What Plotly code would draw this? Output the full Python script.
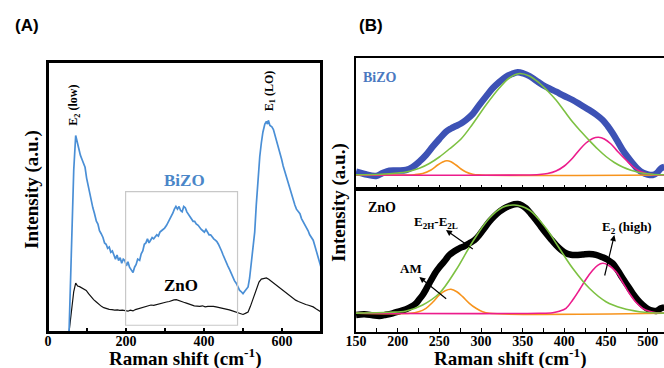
import plotly.graph_objects as go

# ---------------- Panel A data (Raman shift, intensity a.u.) ----------------
a_bizo_x = [54, 60, 66, 71, 75, 79, 83, 87, 91, 95, 99, 103, 107, 111, 115, 119, 124, 128, 132, 136,
            141, 145, 149, 153, 157, 161, 165, 169, 173, 177, 181, 185, 189, 193, 197, 201, 205, 209,
            213, 218, 222, 226, 230, 235, 239, 243, 247, 251, 255, 259, 263, 267, 271, 275, 279, 283,
            287, 291, 295, 299, 304, 308, 312, 316, 320, 324, 328, 332, 336, 340, 344, 348, 352, 356,
            360, 364, 368, 372, 376, 380, 385, 389, 393, 397, 401, 405, 409, 413, 417, 421, 425, 429,
            433, 437, 441, 445, 449, 453, 457, 461, 466, 470, 474, 478, 483, 487, 491, 495, 500, 504,
            508, 513, 517, 521, 526, 530, 534, 538, 543, 547, 551, 556, 560, 563, 565, 569, 574, 578,
            582, 587, 591, 595, 599, 603, 608, 612, 616, 620, 624, 629, 633, 637, 641, 646, 650, 654,
            658, 663, 667, 671, 675, 680, 684, 688, 692, 696, 700]
a_bizo_y = [0, 30, 60, 72.8, 70, 67, 65.5, 64, 62.5, 61, 57, 54, 52, 48.5, 46, 44, 41, 40, 37.5, 36.5,
            35, 33, 32.5, 31, 31.5, 29.5, 30, 28.5, 27, 28.5, 26.5, 27.5, 25.5, 27, 26.5, 24.5, 26, 24,
            23, 22, 24, 25, 27, 26.5, 29, 30, 32.5, 33, 34.5, 33, 34, 35, 34.5, 35.5, 36, 35.5,
            37, 37.5, 38, 38.5, 39.5, 40.5, 42, 43, 44, 45.5, 46.5, 45.5, 46.5, 45, 44.5, 46.5, 46, 44.5,
            43.5, 42.5, 42, 41, 41, 40, 39.5, 38.5, 38, 37.5, 37, 38, 37, 36, 36, 35, 34.5, 34,
            33.5, 32.5, 31.5, 30, 28.5, 27, 25.5, 24.5, 23, 21.5, 20, 19, 18, 16.5, 15.5, 15, 14.2, 15,
            16, 16.7, 20, 25, 30, 37, 47, 57, 65, 70, 74, 77, 78, 77, 78.4, 76.5, 76, 75,
            73, 70.5, 68.5, 67, 64, 61.5, 59, 57, 54.5, 52.5, 50.5, 48.8, 47, 45.5, 44.5, 43.8, 42, 41,
            40, 39, 37.5, 36, 35, 34, 32, 30, 28, 26, 24]

a_zno_x = [54, 60, 66, 71, 76, 81, 86, 92, 98, 104, 110, 117, 124, 130, 137, 143, 150, 157, 164, 171,
           178, 184, 191, 198, 205, 211, 218, 224, 231, 237, 244, 250, 257, 264, 271, 278, 284, 291,
           298, 304, 311, 317, 323, 329, 335, 342, 348, 355, 361, 368, 375, 382, 389, 396, 403, 410,
           417, 424, 431, 438, 445, 451, 458, 465, 471, 477, 483, 489, 495, 500, 506, 513, 519, 525,
           530, 536, 541, 547, 552, 556, 560, 566, 572, 578, 584, 590, 597, 603, 610, 616, 622, 629,
           635, 642, 648, 655, 661, 668, 674, 680, 687, 693, 700]
a_zno_y = [0, 8, 15, 18.1, 17, 16.8, 16.3, 15.8, 15.4, 14.2, 13.1, 12, 11.1, 10.2, 9.5, 9, 8.6, 8.4, 8.3, 8.1,
           8.2, 8, 8.1, 7.9, 7.7, 8.1, 7.8, 8.3, 8.6, 8.8, 9, 9.4, 9.6, 10, 9.9, 10.2, 10.5, 10.7,
           10.9, 11.1, 11.3, 11.7, 11.9, 12, 11.6, 11.4, 11, 10.7, 10.4, 10, 9.7, 9.6, 9.5, 9.7, 9.3, 9.5,
           9.6, 9.5, 9.3, 9.1, 9, 8.8, 8.6, 8.2, 7.9, 7.6, 7.4, 7, 6.6, 6.5, 6.9, 7.4, 9.5, 12,
           14.2, 16.5, 18.5, 19.6, 19.8, 20, 20, 19.5, 18.8, 18.1, 17.4, 16.7, 16, 15.4, 14.5, 13.8, 13, 12.3,
           11.8, 11.3, 10.9, 10.5, 10.2, 9.9, 9.6, 9.3, 8.6, 8, 7.4]

a_tick_vals = [0, 100, 200, 300, 400, 500, 600, 700]
a_tick_text = ["0", "", "200", "", "400", "", "600", ""]

# ---------------- Panel B (top): BiZO and fitted components ----------------
b_bizo_x = [150, 160, 174, 182, 190, 200, 210, 218, 226, 234, 242, 250, 258, 264, 270, 276, 282, 290,
            298, 306, 314, 322, 330, 337, 344, 351, 358, 366, 374, 382, 390, 400, 410, 420, 430, 438,
            446, 452, 458, 464, 470, 476, 482, 488, 494, 500, 506, 511, 516, 520]
b_bizo_y = [3.3, 1, -1, 2, 4.3, 4.5, 5, 8, 13.3, 20, 28.3, 36, 43.3, 46.5, 49, 51.5, 55, 61,
            70, 78.5, 86.7, 93, 98.3, 101, 102.7, 101.5, 99, 94.5, 90, 86.5, 83.3, 79, 75, 70, 65, 60.5,
            55, 49, 41.7, 33.5, 25, 18, 11.7, 6, 2.3, 0.5, 0, 2, 6.7, 8]

b_green_x = [150, 180, 200, 210, 226, 238, 250, 262, 276, 290, 306, 322, 334, 346, 358, 370, 380, 390,
             400, 410, 420, 430, 440, 450, 460, 470, 480, 490, 505, 520]
b_green_y = [0.2, 0.8, 2, 3, 6.7, 11.5, 18, 26, 36, 51, 70, 87, 97, 101.5, 99, 92, 84, 75,
             64, 53, 43.5, 34.5, 26, 18.5, 12.5, 8, 4.8, 2.5, 0.8, 0.2]

b_orange_x = [150, 210, 220, 230, 240, 248, 254, 259, 264, 270, 276, 282, 290, 300, 520]
b_orange_y = [0, 0, 0.3, 1.5, 5, 10, 13, 14.3, 13.3, 10, 6, 3, 0.7, 0, 0]

b_magenta_x = [150, 350, 370, 380, 390, 400, 410, 418, 426, 434, 441, 448, 456, 464, 474, 482, 490, 498,
               506, 520]
b_magenta_y = [0, 0, 0.5, 1.5, 4, 9, 17, 25, 32, 36.5, 37.7, 36, 31, 23.5, 15, 8.5, 4, 1.5,
               0.5, 0]

# ---------------- Panel B (bottom): ZnO and fitted components ----------------
b_zno_x = [150, 160, 170, 178, 186, 194, 202, 210, 216, 222, 226, 230, 234, 238, 242, 246, 250, 254,
           258, 262, 268, 274, 280, 286, 292, 298, 304, 310, 316, 322, 328, 334, 340, 344, 349, 354,
           360, 366, 372, 378, 384, 390, 396, 402, 408, 414, 422, 430, 438, 446, 452, 458, 464, 470,
           476, 482, 488, 494, 500, 506, 511, 516, 520]
b_zno_y = [-1.7, -1, -2, -2.7, -1.5, 0, 2, 4, 6.5, 10, 14, 18.3, 24, 30, 36, 41.6, 46, 50,
           54, 58.3, 62, 65, 67, 70, 73, 78.3, 85, 91.6, 97, 101.6, 105, 107.3, 109, 109.3, 108, 105,
           99.5, 93.3, 86.5, 80, 74, 68.3, 63.5, 60, 58.5, 58.3, 58.8, 59.3, 58.5, 56, 53.5, 50, 43, 35,
           27.5, 20, 13.5, 8.3, 4.5, 2.7, 2.5, 5, 6]

b2_green_x = [150, 190, 210, 230, 250, 270, 290, 310, 326, 340, 358, 378, 394, 410, 430, 450, 470, 490,
              505, 520]
b2_green_y = [0.2, 1, 2.3, 8.3, 20, 43.3, 71.6, 95, 106, 108.3, 103.3, 85, 65, 45, 25, 11.6, 5, 1.6,
              0.5, 0.2]

b2_orange_x = [150, 215, 225, 234, 242, 250, 257, 264, 271, 278, 286, 294, 302, 310, 520]
b2_orange_y = [0, 0, 1.5, 5, 11, 18.3, 22.5, 24, 21.5, 16.6, 10, 5, 1.5, 0, 0]

b2_magenta_x = [150, 370, 386, 394, 402, 410, 418, 426, 434, 440, 446, 452, 462, 470, 478, 486, 494, 502,
                510, 520]
b2_magenta_y = [0, 0, 0.6, 2, 5, 13.3, 23.3, 34, 43, 48, 50, 48.5, 41.6, 31, 20, 11, 5, 2,
                0.6, 0]

b_tick_vals = [150, 175, 200, 225, 250, 275, 300, 325, 350, 375, 400, 425, 450, 475, 500]
b_tick_text = ["150", "", "200", "", "250", "", "300", "", "350", "", "400", "", "450", "", "500"]

W, H = 664, 368
SERIF = "Liberation Serif"
SANS = "Liberation Sans"

fig = go.Figure()

# Panel A traces
fig.add_trace(go.Scatter(x=a_zno_x, y=a_zno_y, xaxis="x", yaxis="y", mode="lines",
                         line=dict(color="#111111", width=1.2)))
fig.add_trace(go.Scatter(x=a_bizo_x, y=a_bizo_y, xaxis="x", yaxis="y", mode="lines",
                         line=dict(color="#4a8fd6", width=1.7)))

# Panel B top traces
fig.add_trace(go.Scatter(x=b_bizo_x, y=b_bizo_y, xaxis="x2", yaxis="y2", mode="lines",
                         line=dict(color="#3d52b5", width=6.5, shape="spline")))
fig.add_trace(go.Scatter(x=b_orange_x, y=b_orange_y, xaxis="x2", yaxis="y2", mode="lines",
                         line=dict(color="#f7941d", width=1.6, shape="spline")))
fig.add_trace(go.Scatter(x=b_magenta_x, y=b_magenta_y, xaxis="x2", yaxis="y2", mode="lines",
                         line=dict(color="#ec1c8c", width=1.6, shape="spline")))
fig.add_trace(go.Scatter(x=b_green_x, y=b_green_y, xaxis="x2", yaxis="y2", mode="lines",
                         line=dict(color="#7dc142", width=1.6, shape="spline")))

# Panel B bottom traces
fig.add_trace(go.Scatter(x=b_zno_x, y=b_zno_y, xaxis="x3", yaxis="y3", mode="lines",
                         line=dict(color="#000000", width=6.5, shape="spline")))
fig.add_trace(go.Scatter(x=b2_orange_x, y=b2_orange_y, xaxis="x3", yaxis="y3", mode="lines",
                         line=dict(color="#f7941d", width=1.6, shape="spline")))
fig.add_trace(go.Scatter(x=b2_magenta_x, y=b2_magenta_y, xaxis="x3", yaxis="y3", mode="lines",
                         line=dict(color="#ec1c8c", width=1.6, shape="spline")))
fig.add_trace(go.Scatter(x=b2_green_x, y=b2_green_y, xaxis="x3", yaxis="y3", mode="lines",
                         line=dict(color="#7dc142", width=1.6, shape="spline")))

tickfont = dict(family=SERIF, size=14, color="black", weight="bold")

def px_x(p):
    return p / W

def px_y(p):
    return 1 - p / H

fig.update_layout(
    width=W, height=H, margin=dict(l=0, r=0, t=0, b=0, autoexpand=False),
    paper_bgcolor="white", plot_bgcolor="rgba(0,0,0,0)", showlegend=False,
    xaxis=dict(domain=[px_x(48), px_x(321)], range=[0, 700], anchor="y",
               tickmode="array", tickvals=a_tick_vals, ticktext=a_tick_text,
               ticks="inside", ticklen=4, tickwidth=1.5, tickcolor="black", ticklabelstandoff=-5,
               showline=True, linewidth=1.8, linecolor="black", mirror=True,
               showgrid=False, zeroline=False, tickfont=tickfont, automargin=False),
    yaxis=dict(domain=[px_y(332), px_y(62)], range=[0, 100], anchor="x",
               showticklabels=False, ticks="", showline=True, linewidth=1.8, linecolor="black",
               mirror=True, showgrid=False, zeroline=False, automargin=False),
    xaxis2=dict(domain=[px_x(356), 1], range=[150, 519.6], anchor="y2",
                showticklabels=False, tickmode="array", tickvals=b_tick_vals,
                ticks="inside", ticklen=4, tickwidth=1.2,
                tickcolor="black", showline=True, linewidth=1.5, linecolor="black", mirror=True,
                showgrid=False, zeroline=False, automargin=False),
    yaxis2=dict(domain=[px_y(189), px_y(58)], range=[-14, 117], anchor="x2",
                showticklabels=False, ticks="", showline=True, linewidth=1.5, linecolor="black",
                mirror=False, showgrid=False, zeroline=False, automargin=False),
    xaxis3=dict(domain=[px_x(356), 1], range=[150, 519.6], anchor="y3",
                tickmode="array", tickvals=b_tick_vals, ticktext=b_tick_text,
                ticks="inside", ticklen=4, tickwidth=1.2, tickcolor="black", ticklabelstandoff=-5,
                showline=True, linewidth=1.5, linecolor="black", mirror=True,
                showgrid=False, zeroline=False, tickfont=tickfont, automargin=False),
    yaxis3=dict(domain=[px_y(332), px_y(189)], range=[-18.7, 124.3], anchor="x3",
                showticklabels=False, ticks="", showline=True, linewidth=1.5, linecolor="black",
                mirror=False, showgrid=False, zeroline=False, automargin=False),
)

# Explicit frame around panel A (paper coordinates)
fig.add_shape(type="rect", xref="paper", yref="paper",
              x0=px_x(48), x1=px_x(321), y0=px_y(332), y1=px_y(62),
              line=dict(color="black", width=2), fillcolor="rgba(0,0,0,0)", layer="above")

# Grey box in panel A
fig.add_shape(type="rect", xref="x", yref="y", x0=199, x1=486, y0=2.5, y1=52,
              line=dict(color="#c8c8c8", width=1.2), fillcolor="rgba(0,0,0,0)")

def ann(text, x, y, xref="paper", yref="paper", size=14, color="black", family=SERIF,
        angle=0, bold=True):
    fig.add_annotation(text=text, x=x, y=y, xref=xref, yref=yref, showarrow=False,
                       textangle=angle, xanchor="center", yanchor="middle",
                       font=dict(family=family, size=size, color=color,
                                 weight="bold" if bold else "normal"))

# Panel labels
ann("(A)", px_x(27), px_y(26), size=17, family=SANS)
ann("(B)", px_x(371), px_y(26), size=17, family=SANS)

# Axis titles
ann("Intensity (a.u.)", px_x(32), px_y(190), size=19, angle=-90)
ann("Raman shift (cm<sup>-1</sup>)", px_x(185), px_y(357), size=19)
ann("Intensity (a.u.)", px_x(339), px_y(203), size=19, angle=-90)
ann("Raman shift (cm<sup>-1</sup>)", px_x(510), px_y(357), size=19)

# Panel A labels
ann("E<sub>2</sub> (low)", 68, 84, xref="x", yref="y", size=12, angle=-90)
ann("E<sub>1</sub> (LO)", 569, 89.5, xref="x", yref="y", size=12, angle=-90)
ann("BiZO", 351, 56.2, xref="x", yref="y", size=17, color="#4a86c8")
ann("ZnO", 342, 17.3, xref="x", yref="y", size=17)

# Panel B labels
ann("BiZO", 179, 98, xref="x2", yref="y2", size=14, color="#4a78c0")
ann("ZnO", 181.6, 106.3, xref="x3", yref="y3", size=14)
ann("E<sub>2H</sub>-E<sub>2L</sub>", 246, 91.3, xref="x3", yref="y3", size=13)
ann("AM", 216, 45.3, xref="x3", yref="y3", size=13)
ann("E<sub>2</sub> (high)", 475.6, 86.3, xref="x3", yref="y3", size=13)

def arrow(xh, yh, xt, yt):
    fig.add_annotation(x=xh, y=yh, ax=xt, ay=yt, xref="x3", yref="y3", axref="x3", ayref="y3",
                       text="", showarrow=True, arrowhead=2, arrowsize=1, arrowwidth=1.2,
                       arrowcolor="black")

arrow(258, 83.3, 292, 63.3)
arrow(226, 36.3, 260, 13.3)
arrow(460, 78.3, 448, 36.3)

fig.write_html("out.html")
